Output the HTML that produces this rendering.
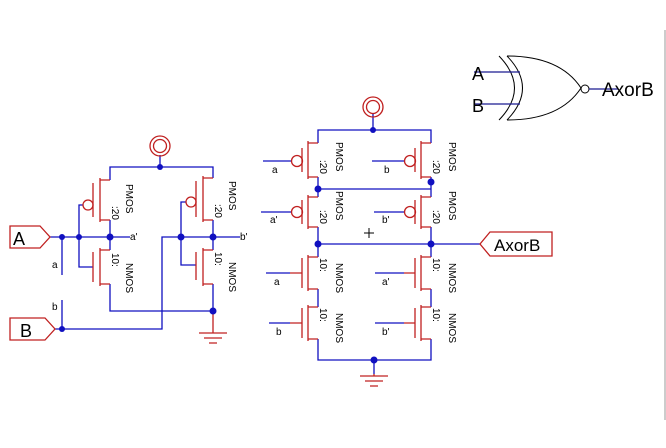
<!DOCTYPE html>
<html><head><meta charset="utf-8"><style>
html,body{margin:0;padding:0;background:#fff;}
svg{display:block;font-family:"Liberation Sans",sans-serif;}
</style></head><body>
<svg width="666" height="448" viewBox="0 0 666 448" xmlns="http://www.w3.org/2000/svg">
<line x1="665" y1="30" x2="665" y2="420" stroke="#bbb" stroke-width="1.5"/>
<g fill="none" stroke-width="1.3">
<!-- ===== Left inverters ===== -->
<g stroke="#1010c0">
<path d="M160,155 V167 M110,180 V167 H213 V178 M110,220 V250 M110,284 V311 H213 V284 M213,220 V250"/>
<path d="M50,237 H130 M79,237 V205 H83 M79,237 V267 H93 M62,237 V275 M62,300 V329 M55,329 H162 V237 H240 M181,237 V202 H186 M181,237 V265 H196"/>
</g>
<g stroke="#c02020">
<!-- left PMOS -->
<path d="M110,180 H100 M100,178 V222 M100,220 H110 M93,183 V217"/>
<circle cx="88" cy="205" r="5"/>
<!-- left NMOS -->
<path d="M110,250 H100 M100,248 V286 M100,284 H110 M93,252 V282"/>
<!-- right PMOS -->
<path d="M213,178 H203 M203,176 V222 M203,220 H213 M196,181 V217"/>
<circle cx="191" cy="202" r="5"/>
<path d="M213,250 H203 M203,248 V286 M203,284 H213 M196,252 V280"/>
<path d="M213,311 V333 M199,333 H227 M204,338 H222 M209,343 H217"/>
<circle cx="160" cy="146" r="10"/><circle cx="160" cy="146" r="6.5"/>
</g>
<!-- ===== Right network ===== -->
<g stroke="#1010c0">
<path d="M373,113 V130 M318,143 V130 H431 V143 M318,177 V197 M431,177 V197 M318,189 H431 M318,227 V257 M431,227 V257 M318,244 H480 M318,289 V307 M431,289 V307 M318,339 V360 H431 V339 M374,360 V374"/>
<path d="M263,161 H291 M372,161 H404 M261,212 H291 M374,212 H404 M266,273 H290 M375,273 H404 M269,323 H290 M375,323 H404"/>
</g>
<g stroke="#c02020">
<path d="M318,143 H308 M308,141 V179 M308,177 H318 M302,148 V172"/><circle cx="297" cy="161" r="5.5"/>
<path d="M431,143 H421 M421,141 V179 M421,177 H431 M415,148 V172"/><circle cx="410" cy="161" r="5.5"/>
<path d="M318,197 H308 M308,195 V229 M308,227 H318 M302,200 V224"/><circle cx="297" cy="212" r="5.5"/>
<path d="M431,197 H421 M421,195 V229 M421,227 H431 M415,200 V224"/><circle cx="410" cy="212" r="5.5"/>
<path d="M318,257 H308 M308,255 V291 M308,289 H318 M302,258 V288 M290,273 H302"/>
<path d="M431,257 H421 M421,255 V291 M421,289 H431 M415,258 V288 M404,273 H415"/>
<path d="M318,307 H308 M308,305 V341 M308,339 H318 M302,308 V338 M290,323 H302"/>
<path d="M431,307 H421 M421,305 V341 M421,339 H431 M415,308 V338 M404,323 H415"/>
<path d="M374,374 V376 M360,376 H388 M365,381 H383 M370,386 H378"/>
<circle cx="373" cy="107" r="10"/><circle cx="373" cy="107" r="6.5"/>
<!-- connectors -->
<path d="M10,226 H40 L50,237 L40,248 H10 Z"/>
<path d="M10,318 H45 L55,329 L45,340 H10 Z"/>
<path d="M480,244 L490,232 H552 V256 H490 Z"/>
</g>
</g>
<g fill="#1010c0">
<circle cx="160" cy="167" r="3"/><circle cx="62" cy="237" r="3"/><circle cx="79" cy="237" r="3"/><circle cx="110" cy="237" r="3.5"/>
<circle cx="181" cy="237" r="3.5"/><circle cx="213" cy="237" r="3.5"/><circle cx="213" cy="311" r="3.5"/><circle cx="62" cy="329" r="3"/>
<circle cx="373" cy="130" r="3"/><circle cx="318" cy="189" r="3.5"/><circle cx="431" cy="182" r="3.5"/>
<circle cx="318" cy="244" r="3.5"/><circle cx="431" cy="244" r="3.5"/><circle cx="374" cy="360" r="3.5"/>
</g>
<path d="M364,233 H374 M369,228 V238" stroke="#000" stroke-width="1"/>
<!-- text -->
<g font-size="10" fill="#000">
<text x="130" y="240">a'</text><text x="240" y="240">b'</text>
<text x="52" y="268">a</text><text x="52" y="310">b</text>
<text x="272" y="173">a</text><text x="384" y="173">b</text>
<text x="270" y="223">a'</text><text x="382" y="223">b'</text>
<text x="274" y="285">a</text><text x="382" y="285">a'</text>
<text x="276" y="335">b</text><text x="382" y="335">b'</text>
<g font-size="10">
<text transform="translate(126,184) rotate(90)">PMOS</text><text transform="translate(112,206) rotate(90)">:20</text>
<text transform="translate(126,263) rotate(90)">NMOS</text><text transform="translate(112,253) rotate(90)">10:</text>
<text transform="translate(229,181) rotate(90)">PMOS</text><text transform="translate(215,204) rotate(90)">:20</text>
<text transform="translate(229,262) rotate(90)">NMOS</text><text transform="translate(215,252) rotate(90)">10:</text>
<text transform="translate(336,142) rotate(90)">PMOS</text><text transform="translate(320,160) rotate(90)">:20</text>
<text transform="translate(449,142) rotate(90)">PMOS</text><text transform="translate(433,160) rotate(90)">:20</text>
<text transform="translate(336,191) rotate(90)">PMOS</text><text transform="translate(320,210) rotate(90)">:20</text>
<text transform="translate(449,191) rotate(90)">PMOS</text><text transform="translate(433,210) rotate(90)">:20</text>
<text transform="translate(336,263) rotate(90)">NMOS</text><text transform="translate(320,258) rotate(90)">10:</text>
<text transform="translate(449,263) rotate(90)">NMOS</text><text transform="translate(433,258) rotate(90)">10:</text>
<text transform="translate(336,313) rotate(90)">NMOS</text><text transform="translate(320,308) rotate(90)">10:</text>
<text transform="translate(449,313) rotate(90)">NMOS</text><text transform="translate(433,308) rotate(90)">10:</text>
</g>
</g>
<text x="13" y="245" font-size="18">A</text>
<text x="20" y="337" font-size="18">B</text>
<text x="494" y="251" font-size="17">AxorB</text>
<!-- XNOR gate -->
<g fill="none" stroke="#000" stroke-width="1">
<path d="M499,56 Q530,88 499,120"/>
<path d="M507,56 Q538,88 507,120"/>
<path d="M507,56 Q560,56 581,88 Q560,120 507,120"/>
<circle cx="585" cy="89" r="4"/>
</g>
<path d="M474,72 H520 M474,104 H520 M589,89 H618" stroke="#1a1a90" stroke-width="1.2"/>
<text x="472" y="80" font-size="18">A</text>
<text x="472" y="112" font-size="18">B</text>
<text x="602" y="96" font-size="19">AxorB</text>
</svg>
</body></html>
